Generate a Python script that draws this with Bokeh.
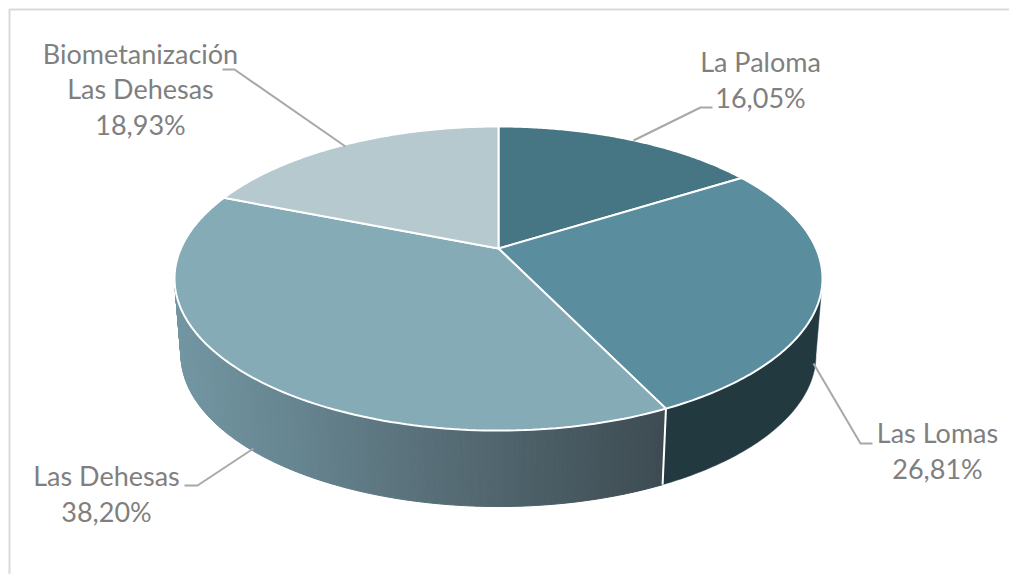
import numpy as np
from bokeh.plotting import figure
from bokeh.models import Range1d
from bokeh.core.properties import value
from bokeh.embed import file_html
from bokeh.resources import INLINE

categories = ["La Paloma", "Las Lomas", "Las Dehesas", "Biometanización Las Dehesas"]
values = [16.05, 26.81, 38.20, 18.93]
value_labels = ["16,05%", "26,81%", "38,20%", "18,93%"]
top_colors = ["#467683", "#5a8e9e", "#84abb6", "#b5c9cf"]

# Projection of the pie disc (screen pixels are the data units)
CX, CY, A, B, K = 498.0, 248.0, 317.6, 146.1, 0.1974
DEPTH, SHRINK = 76.0, 0.98
FONT, SIZE, TEXT_COL, LEAD_COL = "Lato", "27px", "#7f7f7f", "#a8a8a8"


def top(th):
    w = 1 + K * np.cos(th)
    return CX + A * np.sin(th) / w, CY - B * np.cos(th) / w


def bottom(th):
    x, y = top(th)
    return CX + SHRINK * (x - CX), y + DEPTH


def mix(c1, c2, t):
    return "#%02x%02x%02x" % tuple(int(round(a + (b - a) * t)) for a, b in zip(c1, c2))


p = figure(width=1009, height=574, output_backend="svg", toolbar_location=None,
           x_range=Range1d(0, 1009), y_range=Range1d(574, 0),
           min_border=0, outline_line_color=None)
p.axis.visible = False
p.grid.visible = False
p.background_fill_color = "white"

# frame (top and left only)
p.line([9, 9, 1009], [574, 9, 9], line_color="#d9d9d9", line_width=2)

edges = 2 * np.pi * np.cumsum([0] + values) / sum(values)
tangent = np.arccos(-K)  # where the disc outline turns round on the right

# side wall: Las Lomas (flat dark)
th = np.linspace(tangent, edges[2], 80)
x1, y1 = top(th)
x2, y2 = bottom(th)
p.patch(np.r_[x1, x2[::-1]], np.r_[y1, y2[::-1]], fill_color="#22393f", line_color="#22393f", line_width=0.5)

# side wall: Las Dehesas (horizontal gradient)
stops_x = [178, 300, 420, 540, 660]
stops_c = [(0x72, 0x96, 0xa2), (0x65, 0x84, 0x8f), (0x59, 0x70, 0x7a), (0x4b, 0x5e, 0x66), (0x3e, 0x4b, 0x52)]
ths = np.linspace(edges[2], 2 * np.pi - tangent, 160)
for a, b in zip(ths[:-1], ths[1:]):
    seg = np.array([a, b])
    xa, ya = top(seg)
    xb, yb = bottom(seg)
    xm = (xa.mean() + xb.mean()) / 2
    i = int(np.clip(np.searchsorted(stops_x, xm) - 1, 0, len(stops_x) - 2))
    t = (xm - stops_x[i]) / (stops_x[i + 1] - stops_x[i])
    c = mix(stops_c[i], stops_c[i + 1], float(np.clip(t, 0, 1)))
    p.patch(np.r_[xa, xb[::-1]], np.r_[ya, yb[::-1]], fill_color=c, line_color=c, line_width=1)

# divider on the wall
xa, ya = top(edges[2])
xb, yb = bottom(edges[2])
p.line([xa, xb], [ya, yb], line_color="white", line_width=2)

# top slices
for i, col in enumerate(top_colors):
    th = np.linspace(edges[i], edges[i + 1], 120)
    x, y = top(th)
    p.patch(np.r_[CX, x], np.r_[CY, y], fill_color=col, line_color="white", line_width=2)

# leader lines
leaders = [
    ([633, 700, 712], [140, 107, 107]),
    ([813, 860, 872], [363, 443, 443]),
    ([253, 197, 184], [448, 485, 485]),
    ([345, 234, 222], [146, 69, 69]),
]
for lx, ly in leaders:
    p.line(lx, ly, line_color=LEAD_COL, line_width=2)

# labels
text_x = [760, 937, 106, 140]
text_y = [[60.5, 96.5], [432, 468], [474.5, 510.5], [53, 88, 123.5]]
name_lines = [["La Paloma"], ["Las Lomas"], ["Las Dehesas"], ["Biometanización", "Las Dehesas"]]
for tx, tys, names, pct in zip(text_x, text_y, name_lines, value_labels):
    lines = names + [pct]
    p.text([tx] * len(lines), tys, text=lines, text_font=value(FONT), text_font_size=value(SIZE),
           text_color=TEXT_COL, text_align="center", text_baseline="alphabetic")

open("out.html", "w").write(file_html(p, INLINE))
